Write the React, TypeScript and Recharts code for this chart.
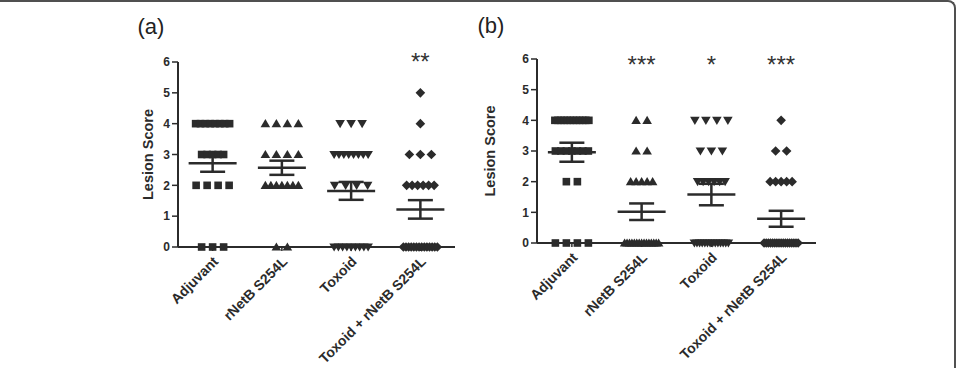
import React from 'react';
import { ScatterChart, Scatter, XAxis, YAxis, ErrorBar } from 'recharts';

// Treatment groups along the x axis
const groups = ['Adjuvant', 'rNetB S254L', 'Toxoid', 'Toxoid + rNetB S254L'];
// Possible lesion scores, index of each count column below
const scoreLevels = [0, 1, 2, 3, 4, 5];
const yTicks = [0, 1, 2, 3, 4, 5, 6];

// Number of birds with each lesion score (columns follow scoreLevels), per group
const countsA = [
  [3, 0, 4, 5, 8, 0],
  [2, 0, 7, 4, 4, 0],
  [9, 0, 4, 8, 3, 0],
  [14, 0, 6, 3, 1, 1],
];
const countsB = [
  [4, 0, 2, 7, 12, 0],
  [15, 0, 5, 2, 2, 0],
  [14, 0, 6, 3, 4, 0],
  [17, 0, 5, 2, 1, 0],
];

// Group mean and standard error of the mean
const meanA = [2.72, 2.57, 1.82, 1.22];
const semA = [0.28, 0.23, 0.29, 0.3];
const meanB = [2.96, 1.02, 1.58, 0.79];
const semB = [0.31, 0.27, 0.35, 0.26];

// Significance versus adjuvant control
const sigA = ['', '', '', '**'];
const sigB = ['', '***', '*', '***'];

const FONT = '"Liberation Sans", Arial, Helvetica, sans-serif';
const INK = '#2b2b2b';
const markerKinds = ['square', 'up', 'down', 'diamond'];

type Pt = { g: number; y: number; slot: number; n: number };

// Expand counts into individual points, each with its slot in its row
function spread(counts: number[][]): Pt[][] {
  return counts.map((row, g) => {
    const pts: Pt[] = [];
    row.forEach((n, level) => {
      for (let k = 0; k < n; k++) pts.push({ g, y: scoreLevels[level], slot: k - (n - 1) / 2, n });
    });
    return pts;
  });
}

// Horizontal pixel spread of tied values: spaced when few, packed when many
function rowOffset(slot: number, n: number) {
  const step = n <= 4 ? 11 : Math.min(5.5, 34 / (n - 1));
  return slot * step;
}

function marker(kind: string, x: number, y: number) {
  switch (kind) {
    case 'square':
      return <rect x={x - 3.8} y={y - 3.8} width={7.6} height={7.6} fill={INK} />;
    case 'up':
      return <polygon points={`${x},${y - 4.6} ${x + 4.8},${y + 3.6} ${x - 4.8},${y + 3.6}`} fill={INK} />;
    case 'down':
      return <polygon points={`${x - 4.8},${y - 3.6} ${x + 4.8},${y - 3.6} ${x},${y + 4.6}`} fill={INK} />;
    default:
      return <polygon points={`${x},${y - 4.8} ${x + 4.8},${y} ${x},${y + 4.8} ${x - 4.8},${y}`} fill={INK} />;
  }
}

const CategoryTick = (props: any) => {
  const { x, y, payload } = props;
  const ax = x + 3;
  const ay = y + 6;
  return (
    <text
      x={ax}
      y={ay}
      dy="0.35em"
      transform={`rotate(-45 ${ax} ${ay})`}
      textAnchor="end"
      fill={INK}
      fontSize={14}
      fontWeight="bold"
      fontFamily={FONT}
    >
      {groups[payload.value]}
    </text>
  );
};

const MeanLine = (props: any) => {
  const { cx, cy } = props;
  return <line x1={cx - 24} x2={cx + 24} y1={cy} y2={cy} stroke={INK} strokeWidth={2.5} />;
};

type PanelProps = {
  counts: number[][];
  means: number[];
  sems: number[];
  sig: string[];
  sigLift: number;
  width: number;
  margin: { top: number; right: number; bottom: number; left: number };
  yAxisWidth: number;
  labelOffset: number;
};

function Panel({ counts, means, sems, sig, sigLift, width, margin, yAxisWidth, labelOffset }: PanelProps) {
  const pts = spread(counts);
  const meanData = means.map((m, g) => ({ g, y: m, sem: sems[g] }));
  const sigData = sig.map((s, g) => ({ g, y: 6, text: s })).filter((d) => d.text);
  return (
    <ScatterChart width={width} height={368} margin={margin}>
      <XAxis
        type="number"
        dataKey="g"
        domain={[-0.5, 3.5]}
        ticks={[0, 1, 2, 3]}
        interval={0}
        tick={<CategoryTick />}
        tickSize={4}
        height={110}
        axisLine={{ stroke: INK, strokeWidth: 2 }}
        tickLine={{ stroke: INK, strokeWidth: 1.5 }}
      />
      <YAxis
        type="number"
        dataKey="y"
        domain={[0, 6]}
        ticks={yTicks}
        interval={0}
        width={yAxisWidth}
        tickSize={6}
        axisLine={{ stroke: INK, strokeWidth: 2 }}
        tickLine={{ stroke: INK, strokeWidth: 1.5 }}
        tick={{ fill: INK, fontSize: 12, fontWeight: 'bold', fontFamily: FONT }}
        label={{
          value: 'Lesion Score',
          angle: -90,
          position: 'insideLeft',
          offset: labelOffset,
          style: { textAnchor: 'middle', fontSize: 14.5, fontWeight: 'bold', fontFamily: FONT, fill: INK },
        }}
      />
      {pts.map((data, g) => (
        <Scatter
          key={g}
          data={data}
          isAnimationActive={false}
          shape={(p: any) => marker(markerKinds[g], p.cx + rowOffset(p.payload.slot, p.payload.n), p.cy)}
        />
      ))}
      <Scatter data={meanData} isAnimationActive={false} shape={<MeanLine />}>
        <ErrorBar dataKey="sem" direction="y" width={12.5} stroke={INK} strokeWidth={2.5} />
      </Scatter>
      <Scatter
        data={sigData}
        isAnimationActive={false}
        shape={(p: any) => (
          <text
            x={p.cx}
            y={p.cy + 13.7 - sigLift}
            textAnchor="middle"
            fontSize={24}
            fontFamily={FONT}
            fill="#333"
          >
            {p.payload.text}
          </text>
        )}
      />
    </ScatterChart>
  );
}

export default function App() {
  return (
    <div style={{ position: 'absolute', left: 0, top: 0, width: 959, height: 368, background: '#fff', overflow: 'hidden' }}>
      <div
        style={{
          position: 'absolute',
          left: -10,
          top: 0,
          width: 966,
          height: 400,
          borderTop: '2px solid #505050',
          borderRight: '2px solid #505050',
          borderTopRightRadius: 8,
          boxSizing: 'border-box',
        }}
      />
      <svg width={959} height={368} style={{ position: 'absolute', left: 0, top: 0 }}>
        <text x={151} y={33.5} textAnchor="middle" fontSize={22} fontFamily={FONT} fill="#222">
          (a)
        </text>
        <text x={491} y={33} textAnchor="middle" fontSize={22} fontFamily={FONT} fill="#222">
          (b)
        </text>
      </svg>
      <div style={{ position: 'absolute', left: 0, top: 0 }}>
        <Panel
          counts={countsA}
          means={meanA}
          sems={semA}
          sig={sigA}
          sigLift={5.5}
          width={470}
          margin={{ top: 62, right: 15, bottom: 11, left: 138 }}
          yAxisWidth={40}
          labelOffset={10}
        />
      </div>
      <div style={{ position: 'absolute', left: 470, top: 0 }}>
        <Panel
          counts={countsB}
          means={meanB}
          sems={semB}
          sig={sigB}
          sigLift={0}
          width={489}
          margin={{ top: 59, right: 143, bottom: 15, left: 12 }}
          yAxisWidth={55}
          labelOffset={8}
        />
      </div>
    </div>
  );
}
